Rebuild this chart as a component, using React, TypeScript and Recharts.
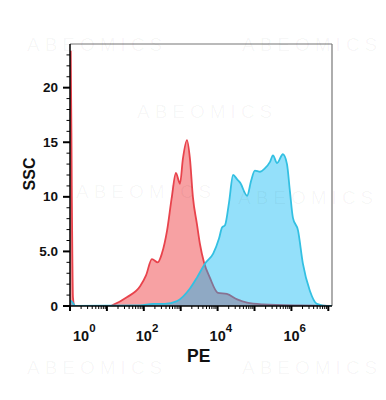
import { ComposedChart, Area, XAxis, YAxis, ReferenceLine } from "recharts";

// PE fluorescence, x in log10 units
const redX = [0, 0.02, 0.05, 0.08, 0.12, 1.1, 1.17, 1.54, 1.9, 2.06, 2.22, 2.38, 2.49, 2.63, 2.76, 2.87, 2.98, 3.06, 3.17, 3.25, 3.33, 3.44, 3.52, 3.63, 3.79, 4.01, 4.25, 4.53, 4.8, 5.23, 6.23, 7.1];
const redY = [23.3, 23.3, 10, 0.8, 0, 0, 0.1, 0.8, 1.8, 2.8, 4.3, 4.0, 4.8, 6.9, 10.0, 12.2, 11.2, 13.5, 15.2, 13.5, 10.0, 7.5, 5.7, 4.0, 2.6, 1.2, 1.1, 0.6, 0.3, 0.15, 0.05, 0.02];

const blueX = [0, 0.05, 0.15, 1.9, 2.25, 2.57, 2.9, 3.25, 3.44, 3.66, 3.88, 4.04, 4.12, 4.2, 4.31, 4.42, 4.53, 4.61, 4.8, 4.91, 5.01, 5.15, 5.28, 5.42, 5.5, 5.61, 5.77, 5.88, 5.96, 6.04, 6.18, 6.31, 6.5, 6.69, 6.96, 7.1];
const blueY = [0.5, 0.4, 0, 0.05, 0.2, 0.2, 0.45, 1.6, 2.6, 3.9, 4.8, 6.2, 7.2, 7.4, 9.5, 12.0, 11.6, 11.3, 10.1, 11.5, 12.4, 12.3, 12.6, 13.2, 13.8, 13.1, 13.9, 13.0, 10.5, 8.1, 6.9, 3.9, 1.4, 0.2, 0, 0];

const xLabelExps = [0, 2, 4, 6];
const yMajor = [0, 5, 10, 15, 20];
const yLabels = ["0", "5.0", "10", "15", "20"];

const redData = redX.map((x, i) => ({ x, y: redY[i] }));
const blueData = blueX.map((x, i) => ({ x, y: blueY[i] }));

// log minor ticks between decades
const xTicks: number[] = [];
for (let n = 0; n <= 7; n++) {
  xTicks.push(n);
  if (n < 7) for (let k = 2; k <= 9; k++) xTicks.push(n + Math.log10(k));
}
const yTicks = Array.from({ length: 24 }, (_, i) => i);

const FONT = "'Liberation Sans', Arial, sans-serif";

function XTick(props: any) {
  const { x, y, payload } = props;
  const v = payload.value;
  const major = Math.abs(v - Math.round(v)) < 1e-6;
  const idx = major ? xLabelExps.indexOf(Math.round(v)) : -1;
  const shift = v === 0 ? 11 : 0;
  return (
    <g>
      <line x1={x} x2={x} y1={y} y2={y + (major ? 5 : 3)} stroke="#000" strokeWidth={major ? 2 : 1} />
      {idx >= 0 && (
        <text x={x - 8 + shift} y={y + 35} fontFamily={FONT} fontWeight="bold" fontSize={14.5} fill="#111">
          10
          <tspan dy={-9} fontSize={11.5}>{xLabelExps[idx]}</tspan>
        </text>
      )}
    </g>
  );
}

function YTick(props: any) {
  const { x, y, payload } = props;
  const v = payload.value;
  const idx = yMajor.indexOf(v);
  return (
    <g>
      <line x1={x - (idx >= 0 ? 7 : 3.5)} x2={x} y1={y} y2={y} stroke="#000" strokeWidth={idx >= 0 ? 2 : 1} />
      {idx >= 0 && (
        <text x={x - 12} y={y + 4.5} textAnchor="end" fontFamily={FONT} fontWeight="bold" fontSize={13.5} fill="#111">
          {yLabels[idx]}
        </text>
      )}
    </g>
  );
}

const marks = [
  [27, 45], [242, 45], [137, 112], [76, 192], [238, 198], [27, 368], [242, 368],
];

export default function App() {
  return (
    <div style={{ position: "absolute", left: 0, top: 0, width: 386, height: 400, background: "#fff" }}>
      <ComposedChart width={386} height={400} margin={{ top: 44, right: 54, bottom: 34, left: 0 }}>
        <XAxis
          type="number"
          dataKey="x"
          domain={[0, 7.1]}
          ticks={xTicks}
          interval={0}
          tickSize={0}
          tickMargin={0}
          tick={<XTick />}
          axisLine={{ stroke: "#000", strokeWidth: 1.5 }}
          tickLine={false}
          height={60}
          allowDataOverflow
        />
        <YAxis
          type="number"
          domain={[0, 24]}
          ticks={yTicks}
          interval={0}
          tickSize={0}
          tickMargin={0}
          tick={<YTick />}
          axisLine={{ stroke: "#000", strokeWidth: 1.5 }}
          tickLine={false}
          width={70}
          allowDataOverflow
        />
        <ReferenceLine y={24} stroke="#777" strokeWidth={1.2} />
        <ReferenceLine x={7.1} stroke="#777" strokeWidth={1.2} />
        <Area
          data={redData}
          dataKey="y"
          type="monotone"
          fill="#f7a1a3"
          fillOpacity={1}
          stroke="#e8434c"
          strokeWidth={1.8}
          isAnimationActive={false}
          dot={false}
          activeDot={false}
        />
        <Area
          data={blueData}
          dataKey="y"
          type="monotone"
          fill="#00b4f2"
          fillOpacity={0.42}
          stroke="#33c0e2"
          strokeWidth={1.8}
          isAnimationActive={false}
          dot={false}
          activeDot={false}
        />
      </ComposedChart>
      <div style={{ position: "absolute", left: 30, top: 174, transform: "translate(-50%, -50%) rotate(-90deg)", fontFamily: FONT, fontWeight: "bold", fontSize: 16, color: "#111" }}>
        SSC
      </div>
      <div style={{ position: "absolute", left: 187, top: 346, fontFamily: FONT, fontWeight: "bold", fontSize: 17.5, color: "#111" }}>
        PE
      </div>
      {marks.map(([l, t], i) => (
        <div key={i} style={{ position: "absolute", left: l, top: t - 11, fontFamily: FONT, fontSize: 19, letterSpacing: 5, color: "rgba(0,0,0,0.04)", pointerEvents: "none" }}>
          ABEOMICS
        </div>
      ))}
    </div>
  );
}
